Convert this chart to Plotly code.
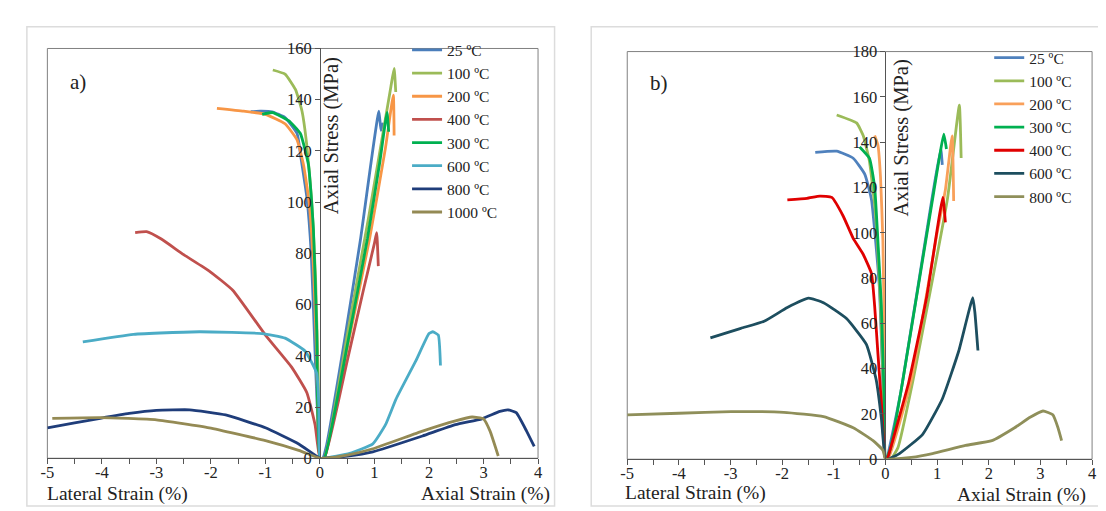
import plotly.graph_objects as go

# ---------------- data: panel a ----------------
a_names = ["25 ºC", "100 ºC", "200 ºC", "400 ºC", "300 ºC", "600 ºC", "800 ºC", "1000 ºC"]
a_colors = ["#4a7ebb", "#9bbb59", "#f79646", "#c0504d", "#00b050", "#4bacc6", "#1f3d7a", "#948a54"]

a25_x = [-1.27, -1.1, -0.88, -0.64, -0.42, -0.345, -0.24, -0.16, -0.08, -0.03, 0, 0.05, 0.12, 0.45, 0.745, 1.08, 1.12, 1.16]
a25_y = [135.3, 135.5, 135.3, 133, 126.8, 116.8, 101.8, 80, 35.6, 10, 0, 0, 5, 46, 85.7, 135.5, 128, 131]
a100_x = [-0.865, -0.64, -0.45, -0.33, -0.24, -0.15, -0.08, -0.03, 0, 0.08, 0.5, 0.9, 1.3, 1.36, 1.39]
a100_y = [151.6, 150, 144, 135.6, 121.9, 100, 70, 30, 0, 0, 48, 95, 145, 152.2, 143]
a200_x = [-1.89, -1.4, -1.0, -0.64, -0.42, -0.30, -0.2, -0.12, -0.06, 0, 0.08, 0.5, 0.91, 1.2, 1.345, 1.36]
a200_y = [136.6, 135.5, 134.3, 130.6, 124.3, 114.4, 100, 75, 40, 0, 0, 43, 85.7, 121, 141.8, 126]
a400_x = [-3.39, -3.18, -2.91, -2.5, -2.03, -1.6, -1.0, -0.52, -0.24, -0.09, 0, 0.08, 0.5, 0.8, 1.0, 1.04, 1.07]
a400_y = [88.1, 88.5, 85.6, 79.5, 73.1, 65.6, 48.1, 35.6, 25.6, 13.1, 0, 0, 38, 66, 84, 88.1, 75]
a300_x = [-1.06, -0.87, -0.575, -0.36, -0.21, -0.12, -0.06, 0, 0.08, 0.5, 0.87, 1.1, 1.23, 1.26]
a300_y = [134.3, 135, 131.8, 126.8, 114.4, 89.4, 50, 0, 0, 44, 85.7, 116, 135, 127.5]
a600_x = [-4.35, -3.42, -2.21, -1.06, -0.64, -0.27, -0.06, -0.02, 0, 0.08, 0.545, 0.97, 1.2, 1.395, 1.76, 2.0, 2.07, 2.17, 2.21]
a600_y = [45.4, 48.4, 49.4, 48.7, 46.9, 41.8, 33.1, 20, 0, 0, 1.9, 5.6, 13, 23.1, 38.1, 48.7, 49.4, 48.1, 36.2]
a800_x = [-5.0, -4.5, -4.03, -3.5, -3.0, -2.39, -1.73, -1.0, -0.39, 0, 0.08, 0.5, 0.97, 1.88, 2.485, 2.97, 3.3, 3.45, 3.6, 3.79, 3.93]
a800_y = [11.9, 13.8, 15.6, 17.5, 18.7, 18.9, 16.9, 11.9, 5.6, 0, 0, 0.8, 2.5, 8.7, 13.1, 15.4, 18.3, 18.9, 17.8, 10.6, 4.6]
a1000_x = [-4.91, -4.03, -3.0, -2.03, -1.0, -0.39, 0, 0.08, 0.5, 0.97, 1.88, 2.485, 2.79, 3.0, 3.12, 3.27]
a1000_y = [15.6, 15.9, 15.0, 11.9, 6.9, 3.1, 0, 0, 1.2, 3.7, 10.6, 14.6, 16.1, 15.4, 10.6, 0.9]

# ---------------- data: panel b ----------------
b_names = ["25 ºC", "100 ºC", "200 ºC", "300 ºC", "400 ºC", "600 ºC", "800 ºC"]
b_colors = ["#4f81bd", "#9bbb59", "#f9a05a", "#00b050", "#e00000", "#1d4e5f", "#8f8f5a"]

b25_x = [-1.36, -0.945, -0.625, -0.40, -0.27, -0.19, -0.115, -0.06, 0, 0.02, 0.3, 0.9, 1.07, 1.1]
b25_y = [135.5, 136, 132.9, 125.8, 114.5, 96.1, 74.8, 40, 0, 0, 30, 115, 137, 130]
b100_x = [-0.945, -0.56, -0.43, -0.31, -0.2, -0.1, -0.04, 0, 0.1, 0.24, 0.525, 1.2, 1.43, 1.465]
b100_y = [152, 148.5, 142.8, 131.5, 110, 70, 30, 0, 0, 5, 34, 115, 156.3, 133]
b200_x = [-0.21, -0.146, -0.096, -0.05, -0.02, 0, 0.05, 0.5, 1.0, 1.16, 1.29, 1.32]
b200_y = [142.9, 138.6, 124.4, 96.1, 50, 0, 0, 35, 100, 119, 142.8, 114]
b300_x = [-0.5, -0.31, -0.21, -0.146, -0.08, -0.03, 0, 0.02, 0.1, 0.33, 0.94, 1.13, 1.18]
b300_y = [137.9, 132.9, 120.2, 96.1, 67.7, 30, 0, 0, 5, 34, 118.8, 143.5, 137]
b400_x = [-1.9, -1.52, -1.27, -1.04, -0.82, -0.625, -0.43, -0.27, -0.21, -0.146, -0.08, 0, 0.03, 0.1, 0.45, 0.8, 1.11, 1.16]
b400_y = [114.5, 115.2, 116.2, 115.6, 107.4, 97.5, 90.4, 81.9, 67.7, 46.5, 25.2, 0, 0, 5, 34, 72, 115.6, 104.6]
b600_x = [-3.39, -2.80, -2.35, -1.90, -1.49, -1.2, -0.755, -0.37, -0.18, -0.08, 0, 0.05, 0.27, 0.72, 1.1, 1.42, 1.69, 1.73, 1.79]
b600_y = [53.6, 57.8, 60.9, 67, 71.1, 69.1, 62.1, 50.7, 35.1, 18.1, 0, 0, 2.5, 11, 26.6, 47.9, 71.3, 65, 48]
b800_x = [-5.0, -4.0, -2.99, -1.97, -1.2, -0.625, -0.24, -0.05, 0, 0.1, 0.5, 0.91, 1.55, 2.06, 2.5, 2.8, 3.05, 3.24, 3.34, 3.41]
b800_y = [19.6, 20.3, 21, 20.7, 18.8, 13.9, 8.2, 4, 0, 0, 0.8, 2.5, 6.1, 8.2, 13.9, 18.5, 21.3, 19.6, 13.9, 8.2]

x_tickvals = [-5, -4, -3, -2, -1, 0, 1, 2, 3, 4]
x_ticktext = ["-5", "-4", "-3", "-2", "-1", "0", "1", "2", "3", "4"]
a_yticks = [0, 20, 40, 60, 80, 100, 120, 140, 160]
b_yticks = [0, 20, 40, 60, 80, 100, 120, 140, 160, 180]

a_series = [(a25_x, a25_y), (a100_x, a100_y), (a200_x, a200_y), (a400_x, a400_y),
            (a300_x, a300_y), (a600_x, a600_y), (a800_x, a800_y), (a1000_x, a1000_y)]
b_series = [(b25_x, b25_y), (b100_x, b100_y), (b200_x, b200_y), (b300_x, b300_y),
            (b400_x, b400_y), (b600_x, b600_y), (b800_x, b800_y)]

# ---------------- layout geometry (pixels) ----------------
W, H = 1106, 511
SERIF = "Liberation Serif, Times New Roman, serif"
TXT = "#222222"

def px(x):
    return x / W

def py(y):
    return 1 - y / H

xr = [-5, 4]
a_dom = [px(32.7), px(528.3)]
a_ydom = [py(458.3), py(32.7)]
b_dom = [px(618.4), px(1087.9)]
b_ydom = [py(459.3), py(35.9)]

def zero_pos(dom):
    return dom[0] + (0 - xr[0]) / (xr[1] - xr[0]) * (dom[1] - dom[0])

LW = 2.8
fig = go.Figure()
for (xs, ys), name, col in zip(a_series, a_names, a_colors):
    fig.add_trace(go.Scatter(x=xs, y=ys, mode="lines", name=name,
                             line=dict(color=col, width=LW, shape="spline", smoothing=0.4),
                             xaxis="x", yaxis="y", legend="legend", hoverinfo="skip"))
for (xs, ys), name, col in zip(b_series, b_names, b_colors):
    fig.add_trace(go.Scatter(x=xs, y=ys, mode="lines", name=name,
                             line=dict(color=col, width=LW, shape="spline", smoothing=0.4),
                             xaxis="x2", yaxis="y2", legend="legend2", hoverinfo="skip"))

TICKFONT = dict(family=SERIF, size=16.5, color=TXT)
axis_common = dict(showgrid=False, zeroline=False, showline=True, linecolor="#555555",
                   linewidth=1, ticks="outside", ticklen=5, tickcolor="#555555",
                   tickfont=TICKFONT)
minor_ticks = dict(dtick=0.5, tick0=0, ticks="outside", ticklen=5, tickcolor="#555555")

fig.update_layout(
    width=W, height=H, margin=dict(l=0, r=0, t=0, b=0),
    paper_bgcolor="white", plot_bgcolor="white",
    xaxis=dict(domain=a_dom, range=xr, anchor="y", tickvals=x_tickvals, ticktext=x_ticktext,
               minor=minor_ticks, ticklabelstandoff=-6, **axis_common),
    yaxis=dict(domain=a_ydom, range=[0, 160], anchor="free", position=zero_pos(a_dom),
               tickvals=a_yticks, **axis_common),
    xaxis2=dict(domain=b_dom, range=xr, anchor="y2", tickvals=x_tickvals, ticktext=x_ticktext,
                minor=minor_ticks, ticklabelstandoff=-6, **axis_common),
    yaxis2=dict(domain=b_ydom, range=[0, 180], anchor="free", position=zero_pos(b_dom),
                tickvals=b_yticks, **axis_common),
    legend=dict(x=px(396), y=py(17), xanchor="left", yanchor="top", bgcolor="rgba(0,0,0,0)",
                font=dict(family=SERIF, size=15.5, color=TXT), tracegroupgap=0, itemwidth=30),
    legend2=dict(x=px(984), y=py(25), xanchor="left", yanchor="top", bgcolor="rgba(0,0,0,0)",
                 font=dict(family=SERIF, size=15.5, color=TXT), tracegroupgap=0, itemwidth=30),
    showlegend=True,
)

shapes = []
# plot-area frames
for xa, ya in [("x", "y"), ("x2", "y2")]:
    shapes.append(dict(type="rect", xref=f"{xa} domain", yref=f"{ya} domain", x0=0, x1=1, y0=0, y1=1,
                       line=dict(color="#808080", width=1), layer="below"))
# outer panel borders
shapes.append(dict(type="rect", xref="paper", yref="paper", x0=px(12), x1=px(545), y0=py(508), y1=py(10),
                   line=dict(color="#dcdcdc", width=1.5)))
shapes.append(dict(type="rect", xref="paper", yref="paper", x0=px(582), x1=px(1100), y0=py(508), y1=py(10),
                   line=dict(color="#dcdcdc", width=1.5)))
fig.update_layout(shapes=shapes)

ann = []
def add_text(text, x, y, size, xanchor="center", angle=0):
    ann.append(dict(text=text, x=px(x), y=py(y), xref="paper", yref="paper", showarrow=False,
                    xanchor=xanchor, yanchor="middle", textangle=angle,
                    font=dict(family=SERIF, size=size, color=TXT)))

add_text("a)", 54, 67, 21, xanchor="left")
add_text("b)", 639, 69, 21, xanchor="left")
add_text("Axial Stress (MPa)", 320, 123, 20.5, angle=-90)
add_text("Axial Stress (MPa)", 895, 126, 20.5, angle=-90)
add_text("Lateral Strain (%)", 30, 495, 19.5, xanchor="left")
add_text("Axial Strain (%)", 542, 495, 19.5, xanchor="right")
add_text("Lateral Strain (%)", 614, 494, 19.5, xanchor="left")
add_text("Axial Strain (%)", 1084, 496, 19.5, xanchor="right")
fig.update_layout(annotations=ann)

fig.write_html("out.html")
